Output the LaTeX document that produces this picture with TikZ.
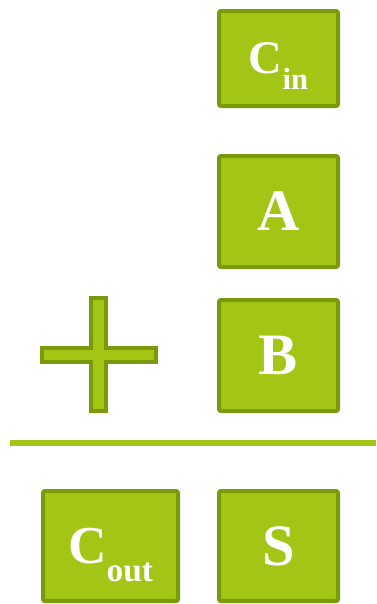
\documentclass[tikz,border=0pt]{standalone}
\usepackage{fontspec}
\setmainfont{Liberation Serif}
\usepackage{xcolor}
\usetikzlibrary{positioning}
\definecolor{leaf}{HTML}{A3C616}
\definecolor{olive}{HTML}{7A9A0C}
\newcommand{\bigsym}[1]{\fontsize{44}{48}\selectfont\bfseries #1}
\newcommand{\carry}[3]{\fontsize{#1}{#1}\selectfont\bfseries C\raisebox{-0.34em}[0pt][0pt]{\fontsize{#2}{#2}\selectfont #3}}

\begin{document}
\begin{tikzpicture}[
  x=0.75pt, y=-0.75pt,
  bit/.style={rectangle, draw=olive, fill=leaf, line width=3pt, rounded corners=1.5pt,
              minimum width=89.25pt, minimum height=83.25pt, text=white, inner sep=0pt},
  rule/.style={draw=leaf, line width=4.5pt}
]
  \useasboundingbox (0,0) rectangle (376,604);

  % summanden
  \node[bit, minimum height=71.25pt] (cin) at (278.5,58.5) {\carry{35}{23}{in}};
  \node[bit, below=34.5pt of cin] (a) {\bigsym{A}};
  \node[bit, below=21.75pt of a] (b) {\bigsym{B}};

  % plus
  \draw[draw=olive, fill=leaf, line width=3.4pt]
    (91,298) -- (106,298) -- (106,348) -- (156,348) -- (156,362) -- (106,362)
    -- (106,411) -- (91,411) -- (91,362) -- (42,362) -- (42,348) -- (91,348) -- cycle;

  % summenstrich
  \draw[rule] (10,443) -- (376,443);

  % ergebnis
  \node[bit, minimum height=82.5pt, below=57pt of b] (s) {\bigsym{S}};
  \node[bit, minimum height=82.5pt, minimum width=101.25pt, left=27.75pt of s] (cout) {\carry{40}{25}{out}};

\end{tikzpicture}
\end{document}
